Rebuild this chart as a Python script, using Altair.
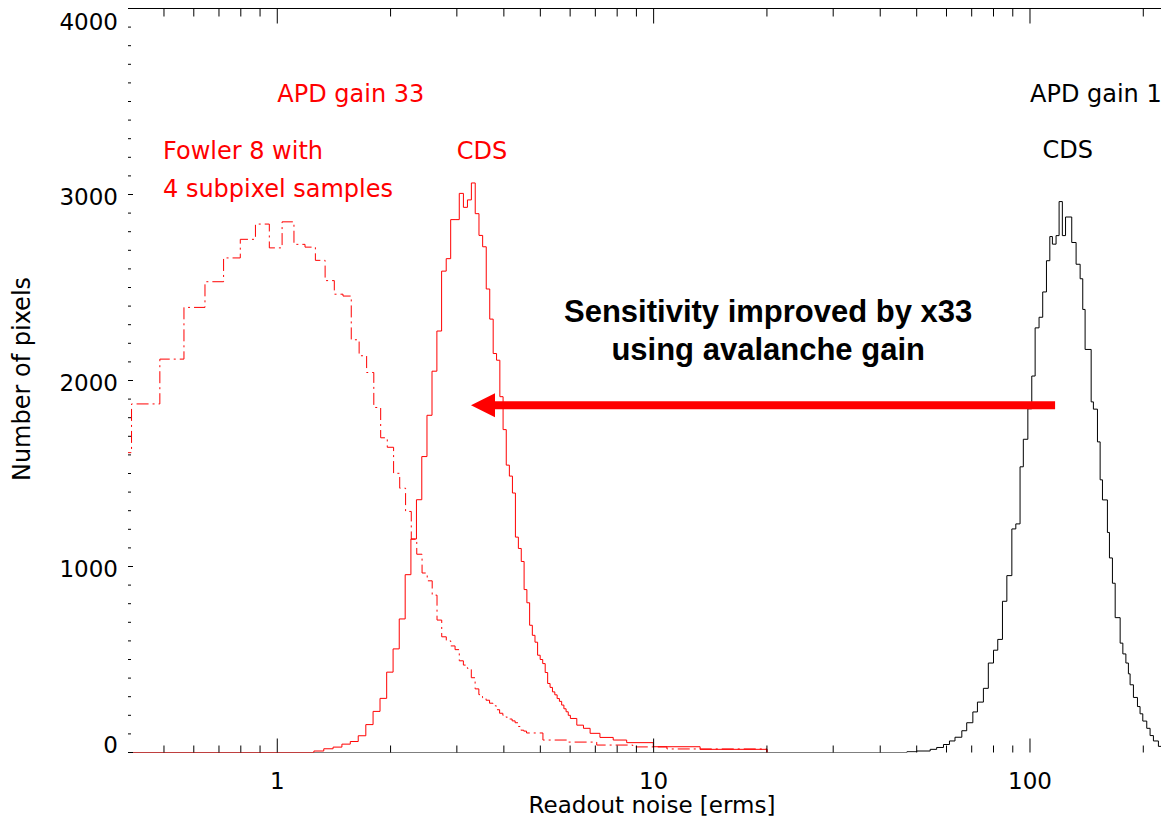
import altair as alt
import pandas as pd

# ---------------- data ----------------
# CDS, APD gain 33 (red solid histogram): bin left edges [erms] and counts
cds33_edges = [1.251, 1.329, 1.407, 1.485, 1.563, 1.641, 1.719, 1.797, 1.875, 1.953,
               2.031, 2.109, 2.187, 2.265, 2.343, 2.421, 2.499, 2.577, 2.655, 2.733,
               2.811, 2.889, 2.967, 3.045, 3.123, 3.201, 3.279, 3.357, 3.435, 3.513,
               3.591, 3.669, 3.747, 3.825, 3.903, 3.981, 4.059, 4.137, 4.215, 4.293,
               4.371, 4.449, 4.527, 4.605, 4.683, 4.761, 4.839, 4.917,
               4.995, 5.073, 5.151, 5.229, 5.307, 5.385, 5.463, 5.541, 5.619, 5.697,
               5.775, 5.853, 5.931, 6.009, 6.25, 6.51, 6.78, 7.20, 7.81, 8.48, 9.98, 13.29]
cds33_counts = [8, 20, 29, 45, 59, 90, 150, 221, 291, 432,
                557, 718, 956, 1148, 1359, 1591, 1813, 2050, 2266, 2588,
                2655, 2865, 2865, 3006, 2931, 2971, 3062, 2897, 2780, 2719,
                2492, 2330, 2145, 2109, 1913, 1736, 1545, 1486, 1395, 1158,
                1097, 1027, 876, 805, 684, 630, 593, 523,
                500, 478, 430, 371, 350, 326, 310, 290, 275, 255,
                235, 219, 200, 183, 147, 130, 103, 81, 67, 53, 31, 17]
cds33_end = 20.0

# Fowler 8 with 4 subpixel samples, APD gain 33 (red dash-dot histogram)
fowler_edges = [0.3325, 0.410, 0.4875, 0.565, 0.6425, 0.72, 0.7975, 0.875, 0.9525, 1.03,
                1.1075, 1.185, 1.2625, 1.34, 1.4175, 1.495, 1.5725, 1.65, 1.7275, 1.805,
                1.8825, 1.96, 2.0375, 2.115, 2.1925, 2.27, 2.3475, 2.425, 2.5025, 2.58,
                2.6575, 2.735,
                2.8125, 2.89, 2.9675, 3.045, 3.1225, 3.20, 3.2775, 3.355, 3.4325, 3.51,
                3.5875, 3.665, 3.7425, 3.82, 3.8975, 3.975, 4.0525, 4.13, 4.2075, 4.285,
                4.3625, 4.44, 4.5175, 4.595, 5.08, 5.88, 7.06, 8.8, 10.85]
fowler_counts = [1612, 1874, 2115, 2393, 2531, 2659, 2759, 2841, 2713, 2853,
                 2732, 2717, 2646, 2537, 2464, 2454, 2219, 2133, 2043, 1855,
                 1692, 1641, 1501, 1421, 1296, 1147, 1066, 965, 923, 846,
                 712, 622,
                 600, 573, 553, 493, 470, 452, 402, 342, 311, 295,
                 281, 265, 251, 230, 211, 200, 190, 180, 170, 160,
                 140, 120, 115, 105, 67, 56, 40, 30, 19]
fowler_end = 20.0

# CDS, APD gain 1 (black histogram)
cds1_edges = [47.1, 50.0, 54.3, 56.5, 58.9, 61.1, 63.2, 65.9, 67.9, 70.5,
              72.5, 75.2, 77.5, 80.0, 82.1, 84.5, 86.8, 89.5, 91.7, 94.1,
              96.0, 98.7, 101.1, 103.2, 105.7, 108.1, 110.6, 112.9, 114.7, 117.3,
              119.5, 121.9, 124.3, 129.1, 132.6, 135.9, 138.1, 140.1, 145.4, 147.4,
              151.1, 153.6, 155.8, 160.6, 162.6, 165.6, 168.4, 173.6, 176.5, 179.8,
              182.6, 184.5, 188.3, 193.0, 196.1, 199.4, 204.3, 208.5, 212.8, 219.4,
              226.2]
cds1_counts = [4, 8, 17, 27, 43, 62, 82, 117, 160, 218,
               271, 345, 481, 550, 608, 813, 951, 1202, 1229, 1536,
               1684, 1848, 2024, 2283, 2340, 2476, 2644, 2774, 2733, 2779,
               2962, 2779, 2879, 2742, 2625, 2547, 2382, 2167, 1885, 1846,
               1670, 1466, 1358, 1183, 1046, 910, 725, 588, 530, 481,
               423, 364, 296, 247, 208, 169, 130, 91, 62, 33,
               13]
cds1_end = 234.2

# axis ticks and labels
x_major = [1, 10, 100]
x_minor = [0.5, 0.6, 0.7, 0.8, 0.9, 2, 3, 4, 5, 6, 7, 8, 9,
           20, 30, 40, 50, 60, 70, 80, 90, 200]
y_major = [0, 1000, 2000, 3000, 4000]
y_minor = [v for v in range(100, 4000, 100) if v % 1000]
x_title = "Readout noise [erms]"
y_title = "Number of pixels"

# annotation texts
red_texts = ["APD gain 33", "Fowler 8 with", "4 subpixel samples", "CDS"]
red_text_x = [1.0, 0.497, 0.497, 3.0]
red_text_y = [3534, 3231, 3025, 3231]
black_texts = ["APD gain 1", "CDS"]
black_text_x = [100.0, 108.0]
black_text_y = [3534, 3235]
bold_texts = ["Sensitivity improved by x33", "using avalanche gain"]
bold_text_x = [20.15, 20.15]
bold_text_y = [2361, 2156]
arrow_from, arrow_to, arrow_level = 116.6, 3.70, 1867
arrow_head_x = 3.521

# ---------------- layout ----------------
W, H = 1033, 744
XMIN = 0.4012
XMAX = 222.9
FONT = "DejaVu Sans"
RED = "#ff0000"


def steps(edges, counts, end, start=None):
    xs, ys = [], []
    if start is not None:
        xs.append(start)
        ys.append(0)
    xs += list(edges)
    ys += list(counts)
    xs.append(end)
    ys.append(0)
    return pd.DataFrame({"x": xs, "n": ys})


xscale = alt.Scale(type="log", domain=[XMIN, XMAX], nice=False)
yscale = alt.Scale(domain=[0, 4000], nice=False, zero=False)

x_axis = alt.Axis(labels=False, ticks=False, grid=False, title=None,
                  domainColor="black", domainWidth=1)
y_axis = alt.Axis(labels=False, ticks=False, grid=False, title=None,
                  domainColor="black", domainWidth=1)

black_hist = alt.Chart(steps(cds1_edges, cds1_counts, cds1_end, XMIN)).mark_line(
    interpolate="step-after", color="black", strokeWidth=1, clip=True
).encode(x=alt.X("x:Q", scale=xscale, axis=x_axis),
         y=alt.Y("n:Q", scale=yscale, axis=y_axis))

red_hist = alt.Chart(steps(cds33_edges, cds33_counts, cds33_end, XMIN)).mark_line(
    interpolate="step-after", color=RED, strokeWidth=1, clip=True
).encode(x=alt.X("x:Q", axis=None), y=alt.Y("n:Q", axis=None))

fowler_hist = alt.Chart(steps(fowler_edges, fowler_counts, fowler_end)).mark_line(
    interpolate="step-after", color=RED, strokeWidth=1, clip=True,
    strokeDash=[12, 4, 2, 4]
).encode(x=alt.X("x:Q", axis=None), y=alt.Y("n:Q", axis=None))

# inward ticks (IDL style) and frame top
xmaj = pd.DataFrame({"x": x_major})
xmin_ = pd.DataFrame({"x": x_minor})
ymaj = pd.DataFrame({"n": y_major})
ymin_ = pd.DataFrame({"n": y_minor})
tick_layers = [
    alt.Chart(xmaj).mark_rule(color="black", strokeWidth=1).encode(
        x=alt.X("x:Q", axis=None), y=alt.value(H), y2=alt.value(H - 14)),
    alt.Chart(xmin_).mark_rule(color="black", strokeWidth=1).encode(
        x=alt.X("x:Q", axis=None), y=alt.value(H), y2=alt.value(H - 7)),
    alt.Chart(xmaj).mark_rule(color="black", strokeWidth=1).encode(
        x=alt.X("x:Q", axis=None), y=alt.value(0), y2=alt.value(15)),
    alt.Chart(xmin_).mark_rule(color="black", strokeWidth=1).encode(
        x=alt.X("x:Q", axis=None), y=alt.value(0), y2=alt.value(8)),
    alt.Chart(ymaj).mark_rule(color="black", strokeWidth=1).encode(
        y=alt.Y("n:Q", axis=None), x=alt.value(0), x2=alt.value(5)),
    alt.Chart(ymin_).mark_rule(color="black", strokeWidth=1).encode(
        y=alt.Y("n:Q", axis=None), x=alt.value(0), x2=alt.value(3)),
    alt.Chart(pd.DataFrame({"a": [0]})).mark_rule(color="black", strokeWidth=1).encode(
        x=alt.value(0), x2=alt.value(W), y=alt.value(0)),
]

# tick labels and axis titles
lab = dict(font=FONT, fontSize=23, color="black")
xlab = alt.Chart(pd.DataFrame({"x": x_major, "t": [str(v) for v in x_major]})).mark_text(
    align="center", baseline="top", **lab
).encode(x=alt.X("x:Q", axis=None), y=alt.value(H + 18), text="t:N")

ylab_top = alt.Chart(pd.DataFrame({"n": y_major[-1:], "t": [str(v) for v in y_major[-1:]]})).mark_text(
    align="right", baseline="top", dy=3, **lab
).encode(y=alt.Y("n:Q", axis=None), x=alt.value(-10), text="t:N")
ylab_mid = alt.Chart(pd.DataFrame({"n": y_major[1:-1], "t": [str(v) for v in y_major[1:-1]]})).mark_text(
    align="right", baseline="middle", dy=3, **lab
).encode(y=alt.Y("n:Q", axis=None), x=alt.value(-10), text="t:N")
ylab_bot = alt.Chart(pd.DataFrame({"n": y_major[:1], "t": [str(v) for v in y_major[:1]]})).mark_text(
    align="right", baseline="alphabetic", **lab
).encode(y=alt.Y("n:Q", axis=None), x=alt.value(-10), text="t:N")

xtitle = alt.Chart(pd.DataFrame({"t": [x_title]})).mark_text(
    align="center", baseline="alphabetic", font=FONT, fontSize=23, color="black"
).encode(x=alt.value(524), y=alt.value(H + 60.5), text="t:N")
ytitle = alt.Chart(pd.DataFrame({"t": [y_title]})).mark_text(
    align="center", baseline="middle", angle=270, font=FONT, fontSize=24, color="black"
).encode(x=alt.value(-105), y=alt.value(370.5), text="t:N")

# annotations
red_ann = alt.Chart(pd.DataFrame({"x": red_text_x, "n": red_text_y, "t": red_texts})).mark_text(
    align="left", baseline="middle", font=FONT, fontSize=24, color=RED
).encode(x=alt.X("x:Q", axis=None), y=alt.Y("n:Q", axis=None), text="t:N")

black_ann = alt.Chart(pd.DataFrame({"x": black_text_x, "n": black_text_y, "t": black_texts})).mark_text(
    align="left", baseline="middle", font=FONT, fontSize=24, color="black"
).encode(x=alt.X("x:Q", axis=None), y=alt.Y("n:Q", axis=None), text="t:N")

bold_ann = alt.Chart(pd.DataFrame({"x": bold_text_x, "n": bold_text_y, "t": bold_texts})).mark_text(
    align="center", baseline="middle", font="Liberation Sans", fontSize=31,
    fontWeight="bold", color="black"
).encode(x=alt.X("x:Q", axis=None), y=alt.Y("n:Q", axis=None), text="t:N")

arrow_line = alt.Chart(pd.DataFrame({"x": [arrow_to], "x2": [arrow_from], "n": [arrow_level]})).mark_rule(
    color=RED, strokeWidth=8, strokeCap="butt"
).encode(x=alt.X("x:Q", axis=None), x2="x2:Q", y=alt.Y("n:Q", axis=None))

arrow_head = alt.Chart(pd.DataFrame({"x": [arrow_head_x], "n": [arrow_level]})).mark_point(
    shape="M-1,0L1,-1L1,1Z", size=576, filled=True, color=RED, opacity=1, strokeWidth=0
).encode(x=alt.X("x:Q", axis=None), y=alt.Y("n:Q", axis=None))

chart = alt.layer(
    black_hist, red_hist, fowler_hist, *tick_layers,
    xlab, ylab_top, ylab_mid, ylab_bot, xtitle, ytitle,
    red_ann, black_ann, bold_ann, arrow_line, arrow_head
).properties(
    width=W, height=H,
    autosize=alt.AutoSizeParams(type="none"),
    padding={"left": 120, "top": 0.5, "right": 0, "bottom": 66.5},
).configure_view(stroke=None)

chart.save("out.html", embed_options={"renderer": "svg", "actions": False})
